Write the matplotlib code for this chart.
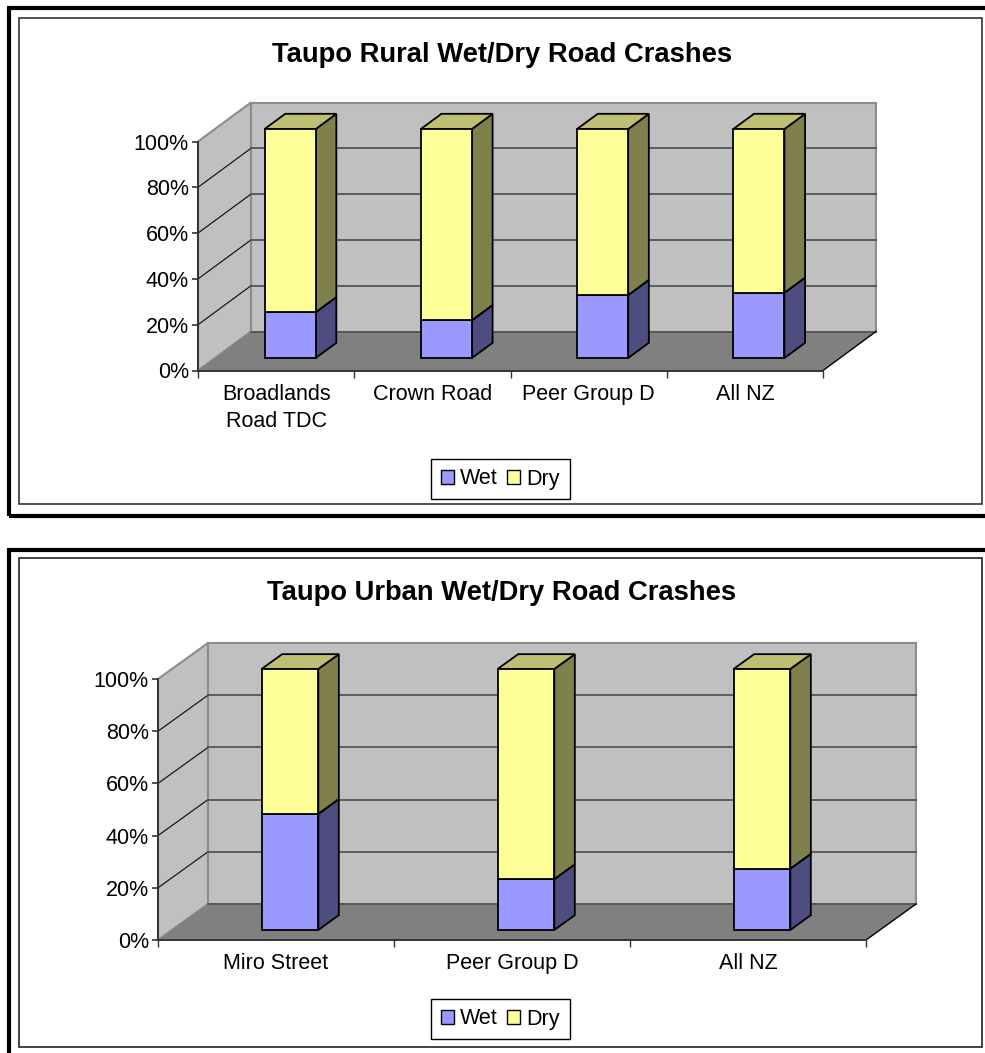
import matplotlib
matplotlib.use('Agg')
import matplotlib.pyplot as plt
from matplotlib.patches import Patch, Polygon, Rectangle

FIG_W, FIG_H = 985, 1053

rural_categories = ['Broadlands\nRoad TDC', 'Crown Road', 'Peer Group D', 'All NZ']
rural_wet = [20, 16.5, 27.5, 28.5]
rural_dry = [80, 83.5, 72.5, 71.5]

urban_categories = ['Miro Street', 'Peer Group D', 'All NZ']
urban_wet = [44.5, 19.5, 23.5]
urban_dry = [55.5, 80.5, 76.5]

pct_ticks = [0, 20, 40, 60, 80, 100]

WALL = '#C0C0C0'
FLOOR = '#808080'
WET = ('#9999FF', '#4D4D80', '#7373BF')
DRY = ('#FFFF99', '#80804D', '#BFBF73')

plt.rcParams['font.family'] = ['Liberation Sans', 'DejaVu Sans']


def px_rect(fig, left, top, right, bottom, lw, color='black'):
    # frame given in image pixels, y running downwards
    fig.add_artist(Rectangle((left / FIG_W, 1 - bottom / FIG_H),
                             (right - left) / FIG_W, (bottom - top) / FIG_H,
                             transform=fig.transFigure, fill=False,
                             edgecolor=color, linewidth=lw, clip_on=False))


def draw_chart(fig, plane, depth, bar_width, bar_depth, bar_shift, title, title_y, legend_y,
               categories, wet, dry):
    left, top, right, bottom = plane
    n = len(categories)
    ax = fig.add_axes([left / FIG_W, 1 - bottom / FIG_H,
                       (right - left) / FIG_W, (bottom - top) / FIG_H])
    ax.set_xlim(0, n)
    ax.set_ylim(0, 100)
    ax.patch.set_visible(False)

    # depth offset per unit of depth, in data units
    off_x = depth[0] / (right - left) * n
    off_y = depth[1] / (bottom - top) * 100

    def proj(x, pct, d):
        return (x + d * off_x, pct + d * off_y)

    def face(points, color, edge='black', lw=1.3, z=2):
        ax.add_patch(Polygon([proj(*p) for p in points], closed=True, facecolor=color,
                             edgecolor=edge, linewidth=lw, joinstyle='miter',
                             clip_on=False, zorder=z))

    # walls and floor
    face([(0, 0, 0), (0, 100, 0), (0, 100, 1), (0, 0, 1)], WALL, edge='#8C8C8C', lw=1.5, z=1)
    face([(0, 0, 1), (0, 100, 1), (n, 100, 1), (n, 0, 1)], WALL, edge='#8C8C8C', lw=1.5, z=1)
    face([(0, 0, 0), (n, 0, 0), (n, 0, 1), (0, 0, 1)], FLOOR, edge='none', lw=0, z=1.1)
    for a, b, c, w in [((0, 0, 1), (n, 0, 1), '#555555', 1.3),
                       ((n, 0, 0), (n, 0, 1), 'black', 1.0)]:
        pa, pb = proj(*a), proj(*b)
        ax.plot([pa[0], pb[0]], [pa[1], pb[1]], color=c, lw=w, clip_on=False, zorder=1.2)

    for p in pct_ticks[1:-1]:
        pa, pb, pc = proj(0, p, 0), proj(0, p, 1), proj(n, p, 1)
        ax.plot([pa[0], pb[0]], [pa[1], pb[1]], color='#1A1A1A', lw=0.9, clip_on=False, zorder=1.3)
        ax.plot([pb[0], pc[0]], [pb[1], pc[1]], color='#555555', lw=1.3, clip_on=False, zorder=1.3)

    # stacked 3D columns
    d0, d1 = bar_depth
    for i in range(n):
        x0 = i + 0.5 + bar_shift - bar_width / 2
        x1 = i + 0.5 + bar_shift + bar_width / 2
        base = 0
        for value, colors in ((wet[i], WET), (dry[i], DRY)):
            end = base + value
            face([(x1, base, d0), (x1, end, d0), (x1, end, d1), (x1, base, d1)], colors[1], z=3)
            face([(x0, end, d0), (x1, end, d0), (x1, end, d1), (x0, end, d1)], colors[2], z=3)
            face([(x0, base, d0), (x1, base, d0), (x1, end, d0), (x0, end, d0)], colors[0], z=4)
            base = end

    # axes on the front plane
    for side in ('top', 'right'):
        ax.spines[side].set_visible(False)
    for side in ('left', 'bottom'):
        ax.spines[side].set_color('#333333')
        ax.spines[side].set_linewidth(1.4)
        ax.spines[side].set_zorder(5)
    ax.set_yticks(pct_ticks)
    ax.set_yticklabels([f'{p}%' for p in pct_ticks], fontsize=15.5)
    ax.tick_params(axis='y', length=4, width=1.2, color='#333333', pad=2.5)
    ax.set_xticks(range(n + 1))
    ax.set_xticklabels([])
    ax.tick_params(axis='x', which='major', length=5, width=1.0, color='#333333')
    ax.set_xticks([i + 0.5 for i in range(n)], minor=True)
    ax.set_xticklabels(categories, minor=True, fontsize=15.5, linespacing=1.42)
    ax.tick_params(axis='x', which='minor', length=0, pad=9.5)

    fig.text(502 / FIG_W, 1 - title_y / FIG_H, title, ha='center', va='center',
             fontsize=19.7, fontweight='bold')

    handles = [Patch(facecolor=WET[0], edgecolor='black', linewidth=1.0, label='Wet'),
               Patch(facecolor=DRY[0], edgecolor='black', linewidth=1.0, label='Dry')]
    fig.legend(handles=handles, loc='center', bbox_to_anchor=(500.5 / FIG_W, 1 - legend_y / FIG_H),
               ncol=2, frameon=True, fancybox=False, edgecolor='black', framealpha=1,
               fontsize=15.5, handlelength=0.6, handleheight=0.6, handletextpad=0.28,
               columnspacing=0.45, borderpad=0.45, borderaxespad=0)


fig = plt.figure(figsize=(FIG_W / 100, FIG_H / 100), dpi=100, facecolor='white')

# panel frames, the right and bottom outer edges run off the page on the lower chart
px_rect(fig, 9, 7.5, 1000, 516, 3)
px_rect(fig, 19, 18, 982, 504, 1.2, color='#333333')
px_rect(fig, 9, 550, 1000, 1070, 3)
px_rect(fig, 19, 558, 982, 1047, 1.2, color='#222222')

draw_chart(fig, (198, 141.5, 823, 370.5), (53, 39), 0.327, (0.32, 0.71), -0.019,
           'Taupo Rural Wet/Dry Road Crashes', 55.5, 479,
           rural_categories, rural_wet, rural_dry)
draw_chart(fig, (158, 679, 866, 940), (50, 36), 0.24, (0.28, 0.69), 0,
           'Taupo Urban Wet/Dry Road Crashes', 593.5, 1019,
           urban_categories, urban_wet, urban_dry)

fig.savefig('out.png', dpi=100, facecolor='white')
plt.close(fig)
